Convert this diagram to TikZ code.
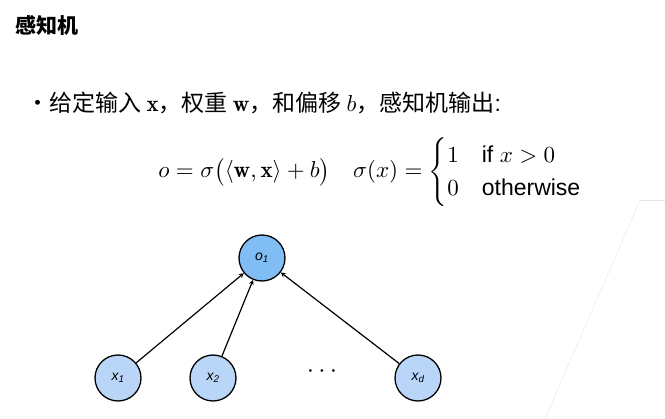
\documentclass[tikz,border=0pt]{standalone}
\usepackage{amsmath}
\usepackage{fontspec}
\setsansfont{Liberation Sans}
\newfontfamily\cjk{Noto Sans CJK SC}
\usetikzlibrary{positioning}

\definecolor{outblue}{HTML}{7FBDF4}
\definecolor{inblue}{HTML}{B9D6F8}

\tikzset{
  unit/.style={circle, draw, line width=1.3pt, minimum size=46pt, inner sep=0pt, font=\fontsize{14}{14}\selectfont\sffamily\itshape},
  outunit/.style={unit, fill=outblue},
  inunit/.style={unit, fill=inblue},
  conn/.style={line width=1.2pt, ->, >=stealth},
  bigtext/.style={anchor=west, scale=2.3, transform shape, inner sep=0pt}
}

\begin{document}
\begin{tikzpicture}[x=1pt,y=-1pt]

\useasboundingbox (0,0) rectangle (665,419);

% faint background lines
\draw [black!10] (640,200) -- (545,419);
\draw [black!10] (640,200) -- (665,200);

% title and text
\node (title) [anchor=west] at (12,25) {\fontsize{21}{21}\selectfont\cjk\bfseries 感知机};
\node (bullet) [bigtext] at (26,103) {\cjk ・给定输入 $\mathbf{x}$，权重 $\mathbf{w}$，和偏移 $b$，感知机输出\sffamily:};
\node (formula) [bigtext] at (158,172) {%
  $o=\sigma\big(\langle\mathbf{w},\mathbf{x}\rangle+b\big)\quad
   \sigma(x)=\begin{cases}1 & \text{\sffamily if }x>0\\ 0 & \text{\sffamily otherwise}\end{cases}$};

% network
\node (o1) [outunit] at (262,258) {o\textsubscript{1}};
\node (x1) [inunit] at (118,378) {x\textsubscript{1}};
\node (x2) [inunit] at (213,378) {x\textsubscript{2}};
\node (xd) [inunit] at (418,378) {x\textsubscript{d}};
\node (dots) [scale=2.6, transform shape] at (322,372) {$\mathbf{\cdots}$};

\draw [conn] (x1) -- (o1);
\draw [conn] (x2) -- (o1);
\draw [conn] (xd) -- (o1);

\end{tikzpicture}
\end{document}
